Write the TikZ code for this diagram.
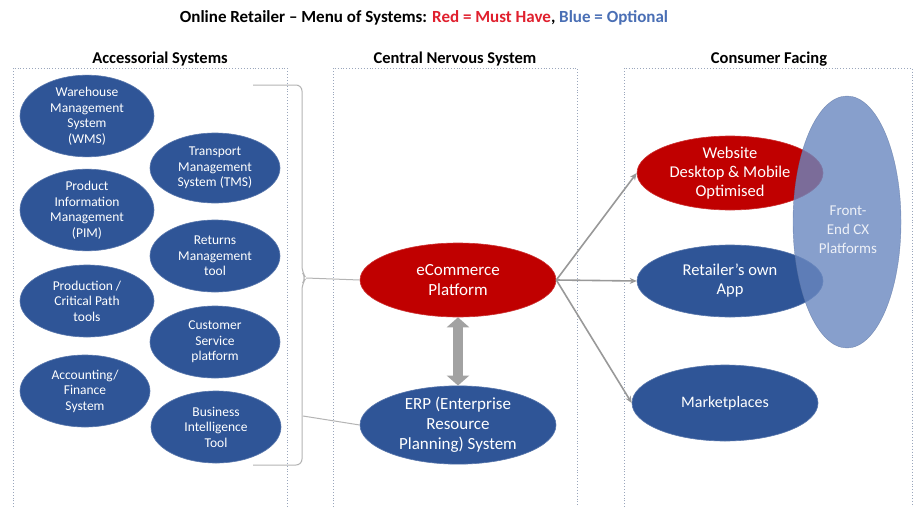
\documentclass[tikz,border=0pt]{standalone}
\usepackage{fontspec}
\setmainfont{Carlito}
\usetikzlibrary{shapes.geometric,arrows.meta}
\definecolor{dblue}{HTML}{2F5597}
\definecolor{dred}{HTML}{C00000}
\definecolor{fblue}{HTML}{6A88C0}
\definecolor{boxc}{HTML}{9AA6BC}
\definecolor{linec}{HTML}{B4B4B4}
\definecolor{tred}{HTML}{E0202E}
\definecolor{tblue}{HTML}{4A6FB5}
\begin{document}
\begin{tikzpicture}[x=1pt,y=-1pt,
  sys/.style={ellipse,inner sep=0pt,align=center,text=white,font=\fontsize{13.5}{15.5}\selectfont},
  bluesys/.style={sys,fill=dblue,draw=dblue!80!white,line width=0.6pt},
  redsys/.style={sys,fill=dred,draw=dred!80!white,line width=0.6pt},
  grp/.style={draw=boxc,dotted,line width=0.9pt},
  hdr/.style={font=\bfseries\fontsize{16.5}{19}\selectfont},
  big/.style={font=\fontsize{17}{20}\selectfont},
  conn/.style={draw=linec,line width=1pt},
  arr/.style={draw=linec!85!black,line width=1.6pt,-{Stealth[length=7pt,width=6pt]}}]
\useasboundingbox (0,0) rectangle (920,506);
\clip (0,0) rectangle (920,506);
\fill[white] (0,0) rectangle (920,506);

% title
\node[font=\bfseries\fontsize{17}{19}\selectfont] (title) at (424,18)
  {Online Retailer -- Menu of Systems: \textcolor{tred}{Red = Must Have}, \textcolor{tblue}{Blue = Optional}};

% group boxes
\draw[grp] (13,510) -- (13,68) -- (287,68) -- (287,510);
\draw[grp] (333,510) -- (333,68) -- (577,68) -- (577,510);
\draw[grp] (624,510) -- (624,68) -- (912,68) -- (912,510);
\node[hdr,fill=white,inner sep=1pt] (h1) at (160,59) {Accessorial Systems};
\node[hdr,fill=white,inner sep=1pt] (h2) at (455,59) {Central Nervous System};
\node[hdr,fill=white,inner sep=1pt] (h3) at (769,59) {Consumer Facing};

% accessorial systems
\node[bluesys,minimum width=134pt,minimum height=66pt] (wms) at (87,116) {Warehouse\\Management\\System\\(WMS)};
\node[bluesys,minimum width=134pt,minimum height=70pt] (pim) at (87,210) {Product\\Information\\Management\\(PIM)};
\node[bluesys,minimum width=134pt,minimum height=72pt] (prod) at (87,301) {Production /\\Critical Path\\tools};
\node[bluesys,minimum width=130pt,minimum height=72pt] (acc) at (85,391) {Accounting/\\Finance\\System};
\node[bluesys,minimum width=130pt,minimum height=70pt] (tms) at (215,168) {Transport\\Management\\System (TMS)};
\node[bluesys,minimum width=130pt,minimum height=72pt] (ret) at (215,256) {Returns\\Management\\tool};
\node[bluesys,minimum width=130pt,minimum height=72pt] (cs) at (215,342) {Customer\\Service\\platform};
\node[bluesys,minimum width=130pt,minimum height=72pt] (bi) at (216,427) {Business\\Intelligence\\Tool};

% central
\node[redsys,big,minimum width=196pt,minimum height=74pt] (ecom) at (458,280) {eCommerce\\Platform};
\node[bluesys,big,minimum width=196pt,minimum height=76pt] (erp) at (458,425) {ERP (Enterprise\\Resource\\Planning) System};

% consumer facing
\node[redsys,minimum width=186pt,minimum height=74pt,font=\fontsize{16.5}{19}\selectfont] (web) at (730,173) {Website\\Desktop \& Mobile\\Optimised};
\node[bluesys,minimum width=186pt,minimum height=72pt,font=\fontsize{16.5}{19}\selectfont] (app) at (730,281) {Retailer's own\\App};
\node[ellipse,inner sep=0pt,fill=fblue,fill opacity=0.8,draw=fblue!80!black,draw opacity=0.6,minimum width=108pt,minimum height=252pt] (fe) at (847,222) {};
\node[align=center,text=white,text opacity=0.85,font=\fontsize{15}{19}\selectfont] (felab) at (848,230) {Front-\\End CX\\Platforms};
\node[bluesys,minimum width=186pt,minimum height=76pt,font=\fontsize{16}{19}\selectfont] (mkt) at (725,403) {Marketplaces};

% brace
\coordinate (bt1) at (253,85);
\coordinate (bt2) at (253,465);
\coordinate (tip) at (306,278);
\coordinate (tip2) at (303,416);
\draw[conn,rounded corners=6pt] (bt1) -- (302,85) -- (302,272) -- (tip) -- (302,284) -- (302,465) -- (bt2);
\draw[conn] (tip) -- (ecom.west);
\draw[conn] (tip2) -- (ecom.west |- erp.west);

% arrows
\draw[arr] (ecom.east) -- (web.west);
\draw[arr] (ecom.east) -- (app.west);
\draw[arr] (ecom.east) -- (mkt.west);

% double arrow
\draw[line width=10pt,draw=linec!90!black,{Triangle[length=10pt,width=22pt]}-{Triangle[length=10pt,width=22pt]}] (ecom.south) -- (erp.north);
\end{tikzpicture}
\end{document}
